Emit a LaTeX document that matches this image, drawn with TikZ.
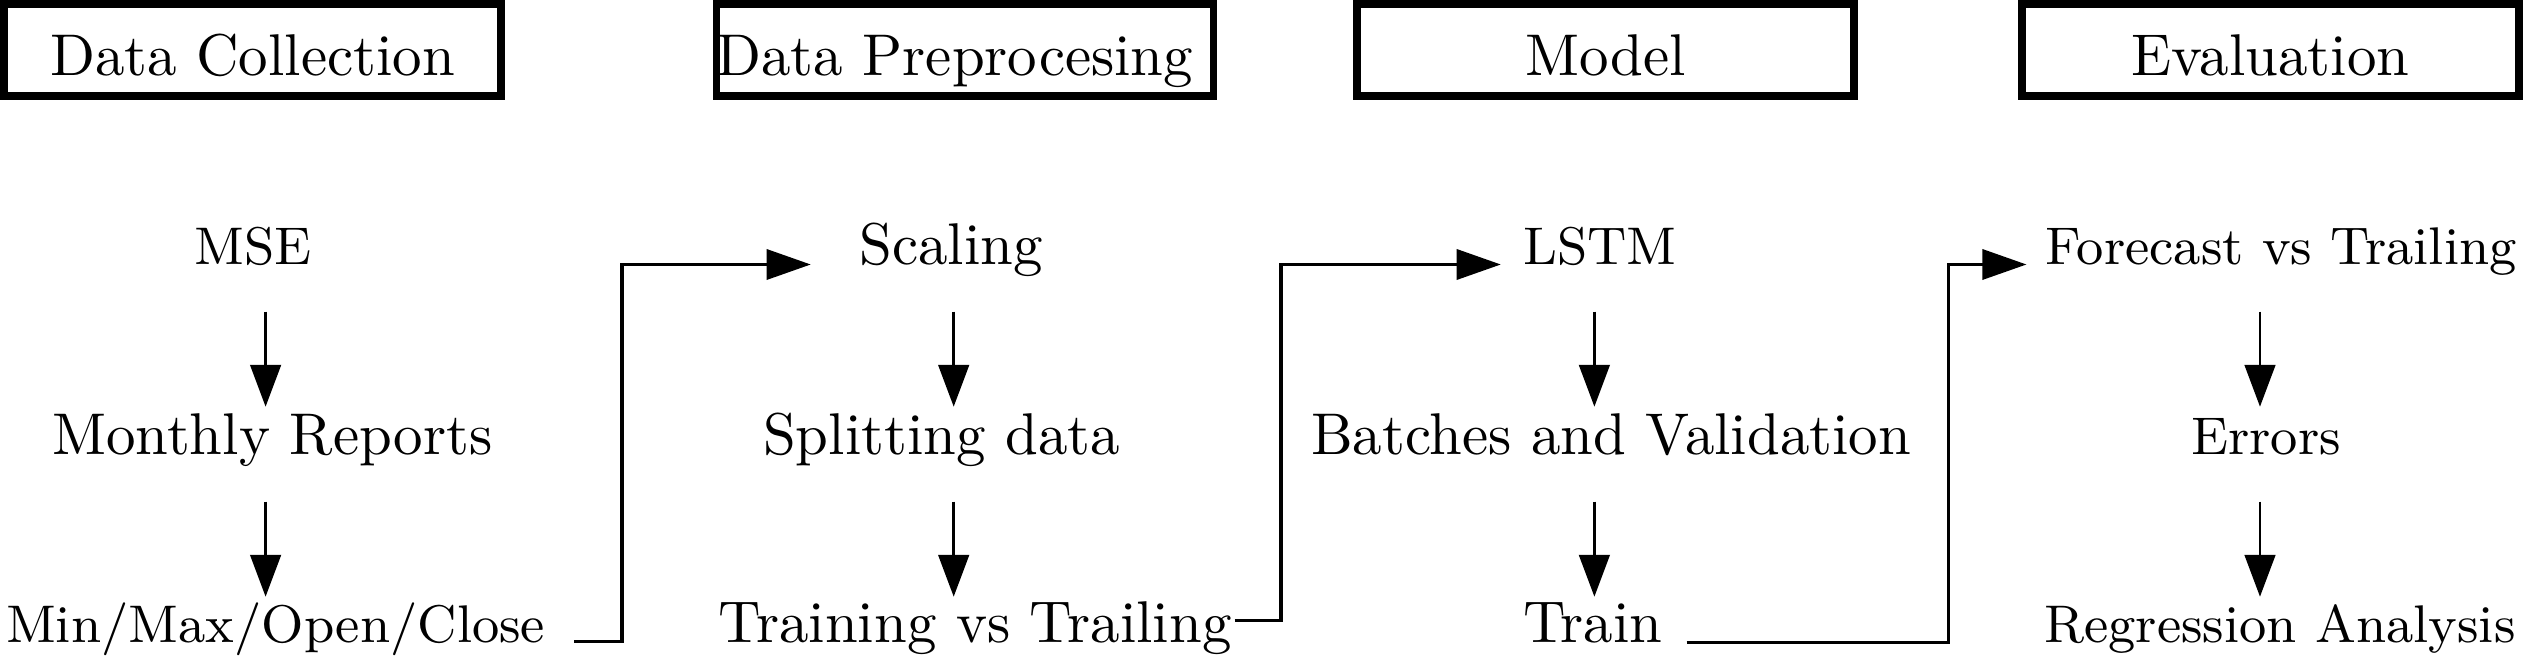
\documentclass[tikz,border=0pt]{standalone}
\usetikzlibrary{arrows.meta,calc}
\begin{document}
\begin{tikzpicture}[x=0.16978pt,y=-0.16978pt,
  hdr/.style={draw,line width=1.3pt,minimum width=84.44pt,minimum height=15.7pt,
    text width=84.44pt,inner sep=0pt,align=center,text height=8.6pt,text depth=0pt},
  lbl/.style={inner sep=0pt,anchor=base},
  sm/.style={lbl,font=\small},
  varrow/.style={line width=0.45pt,-{Triangle[length=7.1pt,width=5.2pt]}},
  harrow/.style={line width=0.6pt,-{Triangle[length=7.5pt,width=5.1pt]}}]
\useasboundingbox (0,0) rectangle (2524,658);
% headers
\node[hdr] (h1) at (252.5,50) {Data Collection};
\node[hdr,align=left] (h2) at (965,50) {Data Preprocesing};
\node[hdr] (h3) at (1605.5,50) {Model};
\node[hdr] (h4) at (2270.5,50) {Evaluation};
% column axes
\coordinate (c1) at (265.6,0);
\coordinate (c2) at (953.7,0);
\coordinate (c3) at (1594.4,0);
\coordinate (c4) at (2260,0);
% column 1
\node[sm] (mse) at (252.7,265) {MSE};
\node[lbl] (mon) at (272.4,455) {Monthly Reports};
\node[sm] (mm) at (275.6,643) {Min/Max/Open/Close};
% column 2
\node[lbl] (sc) at (951,265) {Scaling};
\node[lbl] (sp) at (941.6,455) {Splitting data};
\node[lbl] (tvt) at (975,643) {Training vs Trailing};
% column 3
\node[sm] (lstm) at (1600,265) {LSTM};
\node[lbl] (bv) at (1611,455) {Batches and Validation};
\node[lbl] (tr) at (1592.8,643) {Train};
% column 4
\node[sm] (fc) at (2281.3,265) {Forecast vs Trailing};
\node[sm] (er) at (2266,455) {Errors};
\node[sm] (ra) at (2280,643) {Regression Analysis};
% vertical arrows
\draw[varrow] ($(mse.base -| c1)+(0,46.7)$) -- ($(mon.base -| c1)+(0,-48.3)$);
\draw[varrow] ($(mon.base -| c1)+(0,46.7)$) -- ($(mm.base -| c1)+(0,-46.3)$);
\draw[varrow] ($(sc.base -| c2)+(0,46.7)$) -- ($(sp.base -| c2)+(0,-48.3)$);
\draw[varrow] ($(sp.base -| c2)+(0,46.7)$) -- ($(tvt.base -| c2)+(0,-46.3)$);
\draw[varrow] ($(lstm.base -| c3)+(0,46.7)$) -- ($(bv.base -| c3)+(0,-48.3)$);
\draw[varrow] ($(bv.base -| c3)+(0,46.7)$) -- ($(tr.base -| c3)+(0,-46.3)$);
\draw[varrow] ($(fc.base -| c4)+(0,46.7)$) -- ($(er.base -| c4)+(0,-48.3)$);
\draw[varrow] ($(er.base -| c4)+(0,46.7)$) -- ($(ra.base -| c4)+(0,-46.3)$);
% elbow connectors
\draw[harrow] ($(mm.base east)+(28,-1.5)$) -- ++(47.5,0) |- ($(sc.base west)+(-47.4,-0.5)$);
\draw[harrow] ($(tvt.base east)+(2,-22.5)$) -- ++(46.5,0) |- ($(lstm.base west)+(-21.2,-0.5)$);
\draw[harrow] ($(tr.base east)+(23,-0.5)$) -- ++(262,0) |- ($(fc.base west)+(-18.2,-0.5)$);
\end{tikzpicture}
\end{document}
